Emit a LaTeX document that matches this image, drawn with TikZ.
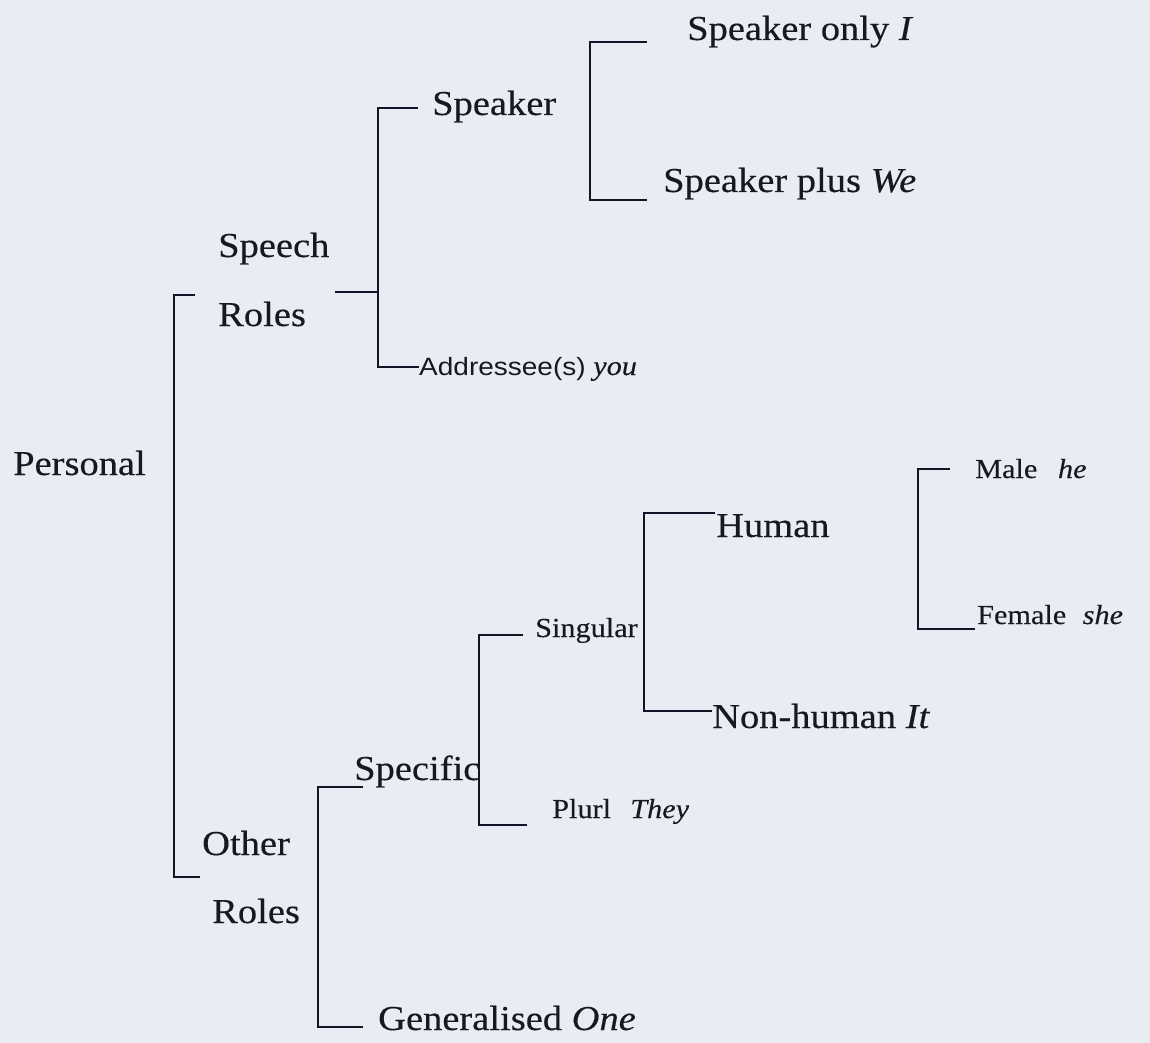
\documentclass[tikz,border=0pt]{standalone}
\usepackage{fontspec}
\setmainfont[FakeStretch=1.1,FakeBold=0.3]{Liberation Serif}
\newfontfamily\labsans[FakeStretch=1.12]{Liberation Sans}
\definecolor{paper}{RGB}{234,236,243}
\definecolor{ink}{RGB}{24,24,34}
\definecolor{lineink}{RGB}{20,20,40}
\begin{document}
\begin{tikzpicture}[x=1pt,y=-1pt,
  big/.style={inner sep=0pt, anchor=base west, font=\fontsize{35}{40}\selectfont, text=ink},
  small/.style={inner sep=0pt, anchor=base west, font=\fontsize{27.5}{32}\selectfont, text=ink},
  ln/.style={line width=2.3pt, draw=lineink, line join=miter}]
\fill[paper] (0,0) rectangle (1150,1043);
\useasboundingbox (0,0) rectangle (1150,1043);
% text nodes
\node[big] (personal) at (13,475) {Personal};
\node[big] (speech) at (218,257) {Speech};
\node[big] (roles1) at (218,326) {Roles};
\node[big] (speaker) at (432,115) {Speaker};
\node[big] (sponly) at (687,40) {Speaker only \textit{I}};
\node[big] (spplus) at (663,192) {Speaker plus \textit{We}};
\node[small] (addr) at (419,375) {{\labsans\fontsize{25}{30}\selectfont Addressee(s)} \textit{you}};
\node[big] (other) at (202,855) {Other};
\node[big] (roles2) at (212,923) {Roles};
\node[big] (specific) at (354,780) {Specific};
\node[big] (general) at (378,1030) {Generalised \textit{One}};
\node[small] (singular) at (535,637) {Singular};
\node[small] (plural) at (552,818) {Plurl\hspace{0.7em}\textit{They}};
\node[big] (human) at (716,537) {Human};
\node[big] (nonhuman) at (712,728) {Non-human \textit{It}};
\node[small] (male) at (975,478) {Male\hspace{0.75em}\textit{he}};
\node[small] (female) at (977,624) {Female\hspace{0.6em}\textit{she}};
% bracket corners
\coordinate (pa1) at (195,295); \coordinate (pa2) at (174,295);
\coordinate (pa3) at (174,877); \coordinate (pa4) at (200,877);
\coordinate (ti1) at (335,292); \coordinate (ti2) at (378,292);
\coordinate (sa1) at (418,108); \coordinate (sa2) at (378,108);
\coordinate (sa3) at (378,367); \coordinate (sa4) at (419,367);
\coordinate (oa1) at (647,42); \coordinate (oa2) at (590,42);
\coordinate (oa3) at (590,200); \coordinate (oa4) at (647,200);
\coordinate (ga1) at (363,787); \coordinate (ga2) at (318,787);
\coordinate (ga3) at (318,1027); \coordinate (ga4) at (363,1027);
\coordinate (na1) at (523,635); \coordinate (na2) at (479,635);
\coordinate (na3) at (479,825); \coordinate (na4) at (527,825);
\coordinate (ha1) at (715,513); \coordinate (ha2) at (644,513);
\coordinate (ha3) at (644,711); \coordinate (ha4) at (712,711);
\coordinate (ma1) at (950,469); \coordinate (ma2) at (918,469);
\coordinate (ma3) at (918,629); \coordinate (ma4) at (975,629);
% brackets
\draw[ln] (pa1) -- (pa2) -- (pa3) -- (pa4);
\draw[ln] (ti1) -- (ti2);
\draw[ln] (sa1) -- (sa2) -- (sa3) -- (sa4);
\draw[ln] (oa1) -- (oa2) -- (oa3) -- (oa4);
\draw[ln] (ga1) -- (ga2) -- (ga3) -- (ga4);
\draw[ln] (na1) -- (na2) -- (na3) -- (na4);
\draw[ln] (ha1) -- (ha2) -- (ha3) -- (ha4);
\draw[ln] (ma1) -- (ma2) -- (ma3) -- (ma4);
\end{tikzpicture}
\end{document}
